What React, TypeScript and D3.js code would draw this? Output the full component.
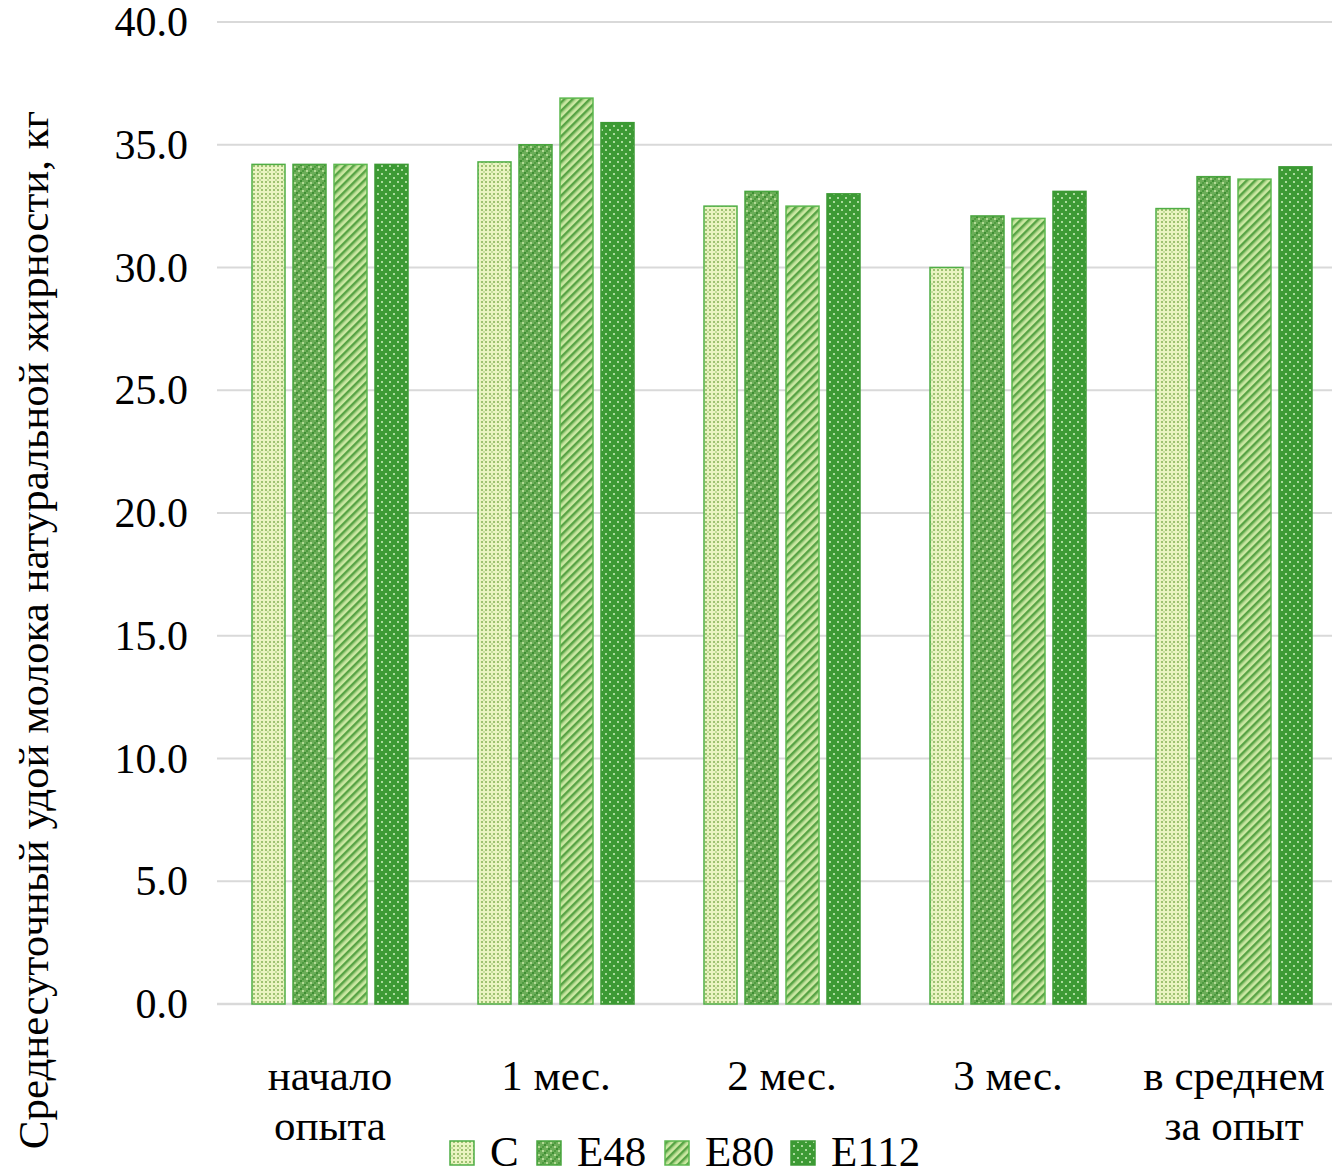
import React from "react";
import * as d3 from "d3";

const categories: string[][] = [
  ["начало", "опыта"],
  ["1 мес."],
  ["2 мес."],
  ["3 мес."],
  ["в среднем", "за опыт"],
];
const seriesNames = ["C", "E48", "E80", "E112"];
const valuesC = [34.2, 34.3, 32.5, 30.0, 32.4];
const valuesE48 = [34.2, 35.0, 33.1, 32.1, 33.7];
const valuesE80 = [34.2, 36.9, 32.5, 32.0, 33.6];
const valuesE112 = [34.2, 35.9, 33.0, 33.1, 34.1];
const yTicks = [0, 5, 10, 15, 20, 25, 30, 35, 40];
const yTitle = "Среднесуточный удой молока натуральной жирности, кг";

const seriesValues = [valuesC, valuesE48, valuesE80, valuesE112];

const W = 1332;
const H = 1171;
const FONT = '"Liberation Serif", "Times New Roman", serif';

function Patterns() {
  return (
    <defs>
      {/* C: pale yellow with small green dots */}
      <pattern id="pC" width="8" height="8" patternUnits="userSpaceOnUse">
        <rect width="8" height="8" fill="#eaf4c2" />
        <rect x="1" y="1" width="2" height="2" fill="#9fc272" />
        <rect x="5" y="1" width="2" height="2" fill="#9fc272" />
        <rect x="1" y="5" width="2" height="2" fill="#9fc272" />
        <rect x="5" y="5" width="2" height="2" fill="#9fc272" />
        <rect x="3" y="3" width="2" height="2" fill="#c7df9e" />
      </pattern>
      {/* E48: green lattice */}
      <pattern id="pE48" width="8" height="8" patternUnits="userSpaceOnUse">
        <rect width="8" height="8" fill="#6cae58" />
        <rect x="0" y="0" width="2" height="2" fill="#3f8f33" />
        <rect x="4" y="4" width="2" height="2" fill="#3f8f33" />
        <rect x="2" y="2" width="2" height="2" fill="#b2da95" />
        <rect x="6" y="6" width="2" height="2" fill="#b2da95" />
        <rect x="6" y="2" width="2" height="2" fill="#4f9c40" />
        <rect x="2" y="6" width="2" height="2" fill="#4f9c40" />
      </pattern>
      {/* E80: diagonal stripes */}
      <pattern
        id="pE80"
        width="6"
        height="6"
        patternUnits="userSpaceOnUse"
        patternTransform="rotate(45)"
      >
        <rect width="6" height="6" fill="#cbe8a2" />
        <rect x="0" y="0" width="2.6" height="6" fill="#58a445" />
        <rect x="2.6" y="0" width="0.8" height="6" fill="#93c774" />
      </pattern>
      {/* E112: solid green with light dots */}
      <pattern id="pE112" width="8" height="8" patternUnits="userSpaceOnUse">
        <rect width="8" height="8" fill="#3c9a34" />
        <rect x="1" y="1" width="2" height="2" fill="#a9da9c" />
        <rect x="5" y="5" width="2" height="2" fill="#a9da9c" />
      </pattern>
    </defs>
  );
}

const fills = ["url(#pC)", "url(#pE48)", "url(#pE80)", "url(#pE112)"];
const strokes = ["#4fae45", "#4aa63f", "#5cb84e", "#3c9a34"];

export default function App() {
  const y = d3.scaleLinear().domain([0, 40]).range([1004, 22]);
  const x0 = d3
    .scaleBand<number>()
    .domain(categories.map((_, i) => i))
    .range([217, 1347])
    .paddingInner(0)
    .paddingOuter(0);
  const barW = 33;
  const barStep = 41;
  const groupW = barW * 4 + (barStep - barW) * 3;

  return (
    <div style={{ position: "absolute", left: 0, top: 0 }}>
      <svg width={W} height={H} style={{ display: "block" }} fontFamily={FONT}>
        <Patterns />
        <rect width={W} height={H} fill="#ffffff" />
        {/* grid lines */}
        {yTicks.map((t) => (
          <line
            key={t}
            x1={217}
            x2={W}
            y1={y(t)}
            y2={y(t)}
            stroke="#d9d9d9"
            strokeWidth={t === 0 ? 2.5 : 2}
          />
        ))}
        {/* y tick labels */}
        {yTicks.map((t) => (
          <text
            key={t}
            x={188}
            y={y(t) + 14}
            textAnchor="end"
            fontSize={42}
            fill="#000"
          >
            {t.toFixed(1)}
          </text>
        ))}
        {/* bars */}
        {categories.map((_, ci) => {
          const cx = (x0(ci) as number) + x0.bandwidth() / 2;
          const start = cx - groupW / 2;
          return seriesValues.map((vals, si) => {
            const v = vals[ci];
            return (
              <rect
                key={`${ci}-${si}`}
                x={start + si * barStep}
                y={y(v)}
                width={barW}
                height={y(0) - y(v)}
                fill={fills[si]}
                stroke={strokes[si]}
                strokeWidth={1.5}
              />
            );
          });
        })}
        {/* category labels */}
        {categories.map((lines, ci) => {
          const cx = (x0(ci) as number) + x0.bandwidth() / 2;
          return (
            <text key={ci} x={cx} y={1090} textAnchor="middle" fontSize={43} fill="#000">
              {lines.map((l, li) => (
                <tspan key={li} x={cx} dy={li === 0 ? 0 : 50}>
                  {l}
                </tspan>
              ))}
            </text>
          );
        })}
        {/* y axis title */}
        <text
          transform={`translate(48, 630) rotate(-90)`}
          textAnchor="middle"
          fontSize={43}
          fill="#000"
        >
          {yTitle}
        </text>
        {/* legend */}
        {seriesNames.map((name, i) => {
          const lx = [450, 537, 665, 791][i];
          return (
            <g key={name}>
              <rect
                x={lx}
                y={1141}
                width={24}
                height={24}
                fill={fills[i]}
                stroke={strokes[i]}
                strokeWidth={1.5}
              />
              <text x={lx + 40} y={1166} fontSize={43} fill="#000">
                {name}
              </text>
            </g>
          );
        })}
      </svg>
    </div>
  );
}
